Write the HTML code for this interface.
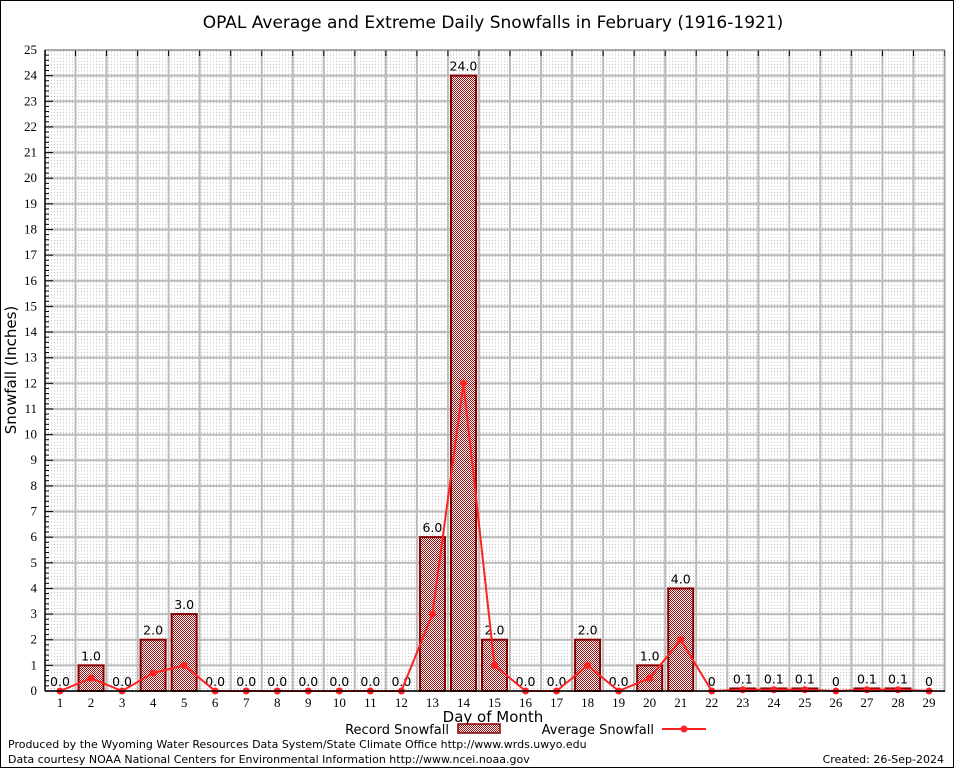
<!DOCTYPE html>
<html><head><meta charset="utf-8"><style>
body{margin:0;background:#fff;}
svg text{font-family:"DejaVu Sans","Liberation Sans",sans-serif;}
svg text.serif{font-family:"Liberation Serif",serif;}
</style></head><body>
<svg id="c" width="954" height="768" xmlns="http://www.w3.org/2000/svg">
<defs>
<pattern id="minor" width="3" height="3.2" patternUnits="userSpaceOnUse"><rect width="1" height="1" fill="#bdbdbd"/></pattern>
<pattern id="hatch" width="2" height="2" patternUnits="userSpaceOnUse"><rect width="2" height="2" fill="#fff"/><rect width="1" height="1" fill="#a01010"/><rect x="1" y="1" width="1" height="1" fill="#a01010"/></pattern>
</defs>
<rect x="0.5" y="0.5" width="953" height="767" fill="#fff" stroke="#000"/>
<text x="493" y="28" font-size="17" text-anchor="middle">OPAL Average and Extreme Daily Snowfalls in February (1916-1921)</text>
<rect x="45" y="50" width="900" height="641" fill="url(#minor)"/>
<g id="grid"></g><g id="bars"></g><g id="line"></g><g id="axes"></g>
<text x="493" y="722" font-size="15" text-anchor="middle">Day of Month</text>
<text transform="translate(16,370) rotate(-90)" font-size="15" text-anchor="middle">Snowfall (Inches)</text>
<g><text x="449" y="734" font-size="13" text-anchor="end">Record Snowfall</text><rect x="458" y="724" width="42" height="9" fill="url(#hatch)" stroke="#800" stroke-width="1.5"/></g>
<g><text x="654" y="734" font-size="13" text-anchor="end">Average Snowfall</text><line x1="662" y1="729" x2="706" y2="729" stroke="#f22" stroke-width="2"/><circle cx="684" cy="729" r="3.5" fill="#f22"/></g>
<text x="8" y="748" font-size="11">Produced by the Wyoming Water Resources Data System/State Climate Office http://www.wrds.uwyo.edu</text>
<text x="8" y="763" font-size="11">Data courtesy NOAA National Centers for Environmental Information http://www.ncei.noaa.gov</text>
<text x="944" y="763" font-size="11" text-anchor="end">Created:  26-Sep-2024</text>
</svg>
<script>
const days=[1,2,3,4,5,6,7,8,9,10,11,12,13,14,15,16,17,18,19,20,21,22,23,24,25,26,27,28,29];
const recordVals=[0,1,0,2,3,0,0,0,0,0,0,0,6,24,2,0,0,2,0,1,4,0,0.1,0.1,0.1,0,0.1,0.1,0];
const recordLabels=["0.0","1.0","0.0","2.0","3.0","0.0","0.0","0.0","0.0","0.0","0.0","0.0","6.0","24.0","2.0","0.0","0.0","2.0","0.0","1.0","4.0","0","0.1","0.1","0.1","0","0.1","0.1","0"];
const avgVals=[0,0.5,0,0.7,1.0,0,0,0,0,0,0,0,3.0,12.0,1.0,0,0,1.0,0,0.5,2.0,0,0.05,0.05,0.05,0,0.05,0.05,0];
const yTicks=[0,1,2,3,4,5,6,7,8,9,10,11,12,13,14,15,16,17,18,19,20,21,22,23,24,25];
const NS="http://www.w3.org/2000/svg";
const L=45,R=945,T=50,B=691;
const x=d=>60+(d-1)*(929-60)/28;
const y=v=>B-v*(B-T)/25;
function mk(tag,attrs,parent,txt){const e=document.createElementNS(NS,tag);for(const k in attrs)e.setAttribute(k,attrs[k]);if(txt!==undefined)e.textContent=txt;document.getElementById(parent).appendChild(e);return e;}
yTicks.forEach(t=>{
 const g=mk('line',{x1:L,x2:R,y1:y(t),y2:y(t),stroke:'#bbb','stroke-width':2},'grid');
 
 const tk=mk('line',{x1:L,x2:L+8,y1:y(t),y2:y(t),stroke:'#000'},'axes');
 
 for(let k=1;k<5&&t<25;k++){const m=mk('line',{x1:L,x2:L+4,y1:y(t+k/5),y2:y(t+k/5),stroke:'#000'},'axes');}
 const lb=mk('text',{x:L-8,y:y(t)+4,'font-size':13,'text-anchor':'end','class':'serif'},'axes',String(t));
 
});
days.forEach((d,i)=>{
 const g=mk('line',{x1:x(d)+15.5,x2:x(d)+15.5,y1:T,y2:B,stroke:'#bbb','stroke-width':2},'grid');
 
 const tk=mk('line',{x1:x(d)+15.5,x2:x(d)+15.5,y1:T,y2:T+6,stroke:'#000'},'axes');
 
 const lb=mk('text',{x:x(d),y:B+16,'font-size':13,'text-anchor':'middle','class':'serif'},'axes',String(d));
 
 const v=recordVals[i];
 if(v>0){const b=mk('rect',{x:x(d)-12.5,y:y(v),width:25,height:B-y(v),fill:'url(#hatch)',stroke:'#800','stroke-width':2},'bars');
  }
 const vl=mk('text',{x:x(d),y:y(v)-5,'font-size':12.5,'text-anchor':'middle'},'bars',recordLabels[i]);
 
});
const pl=mk('polyline',{points:days.map((d,i)=>x(d)+','+y(avgVals[i])).join(' '),fill:'none',stroke:'#f22','stroke-width':2},'line');

days.forEach((d,i)=>{const c=mk('circle',{cx:x(d),cy:y(avgVals[i]),r:3.5,fill:'#f22'},'line');
 });
const fr=mk('rect',{x:L,y:T,width:R-L,height:B-T,fill:'none',stroke:'#999','stroke-width':1},'axes');

const xa=mk('line',{x1:L,x2:R,y1:B,y2:B,stroke:'#000','stroke-width':1.5},'axes');

const ya=mk('line',{x1:L,x2:L,y1:T,y2:B,stroke:'#000','stroke-width':1.5},'axes');

</script>
</body></html>
